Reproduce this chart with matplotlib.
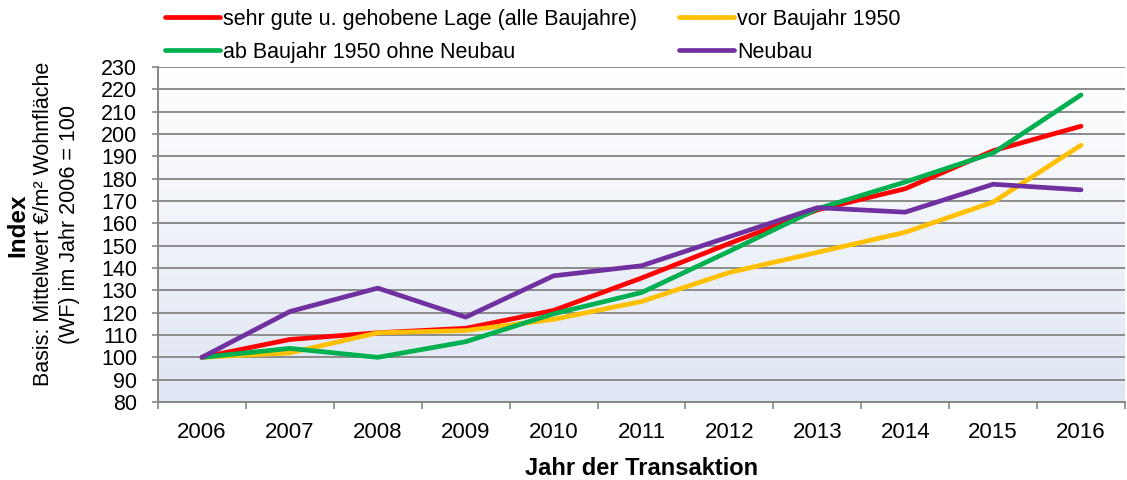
import matplotlib
matplotlib.use("Agg")
import matplotlib.pyplot as plt
import numpy as np
from matplotlib.colors import LinearSegmentedColormap

plt.rcParams['font.family'] = ['Liberation Sans', 'DejaVu Sans']

years = [2006, 2007, 2008, 2009, 2010, 2011, 2012, 2013, 2014, 2015, 2016]
sehr_gute = [100, 108, 111, 113, 121, 135.5, 151, 166, 175.5, 192.5, 203.5]
vor_1950 = [100, 102, 111, 112, 117, 125, 138, 147, 156, 169.5, 195]
ab_1950 = [100, 104, 100, 107, 119.5, 129, 147.5, 166.5, 178.5, 191.5, 217.5]
neubau = [100, 120.5, 131, 118, 136.5, 141, 154, 167, 165, 177.5, 175]

labels = ["sehr gute u. gehobene Lage (alle Baujahre)", "vor Baujahr 1950",
          "ab Baujahr 1950 ohne Neubau", "Neubau"]
colors = ["#ff0000", "#ffc000", "#00b050", "#7030a0"]
yticks = list(range(80, 231, 10))

W, H = 1127, 480
fig = plt.figure(figsize=(W / 100, H / 100), dpi=100)
ax = fig.add_axes([158 / W, 1 - 402 / H, (1125 - 158) / W, (402 - 67) / H])

# gradient background
grad = np.linspace(1, 0, 256).reshape(-1, 1)
cmap = LinearSegmentedColormap.from_list("bg", ["#dfe6f3", "#ffffff"])
ax.imshow(grad, extent=[0, 1, 0, 1], transform=ax.transAxes, cmap=cmap,
          aspect='auto', zorder=0, origin='upper')

x = np.arange(len(years))
series = [sehr_gute, vor_1950, ab_1950, neubau]
handles = []
for s, c, l in zip(series, colors, labels):
    h, = ax.plot(x, s, color=c, lw=3.4, label=l, zorder=3, solid_capstyle='round')
    handles.append(h)

ax.set_xlim(-0.5, len(years) - 0.5)
ax.set_ylim(80, 230)
ax.set_yticks(yticks)
ax.set_yticklabels([str(t) for t in yticks], fontsize=15.5)
ax.set_xticks(x)
ax.set_xticklabels([str(y) for y in years], fontsize=16)
ax.set_xticks(np.arange(-0.5, len(years)), minor=True)
ax.tick_params(axis='x', which='major', length=0, pad=14.5)
ax.tick_params(axis='x', which='minor', length=5, color='#868686', width=1.2)
ax.tick_params(axis='y', length=4.5, color='#868686', width=1.2, pad=10.5)
ax.grid(axis='y', color='#8c8c8c', lw=1.4, zorder=1)
ax.set_axisbelow(True)
for sp in ['top', 'right']:
    ax.spines[sp].set_visible(False)
for sp in ['left', 'bottom']:
    ax.spines[sp].set_color('#868686')
    ax.spines[sp].set_linewidth(1.4)

ax.set_xlabel("Jahr der Transaktion", fontsize=17, fontweight='bold', labelpad=10)

fig.text(18 / W, 1 - 225 / H, "Index", rotation=90, fontsize=17.5, fontweight='bold',
         ha='center', va='center')
fig.text(56.5 / W, 1 - 224 / H, "Basis: Mittelwert €/m² Wohnfläche\n(WF) im Jahr 2006 = 100",
         rotation=90, fontsize=15.5, ha='center', va='center', linespacing=1.28)

order = [handles[0], handles[2], handles[1], handles[3]]
fig.legend(order, [h.get_label() for h in order], ncol=2, loc='upper left',
           bbox_to_anchor=(165 / W, 1 - 9 / H), frameon=False, fontsize=15.5,
           handlelength=2.55, handletextpad=0.15, columnspacing=1.95,
           labelspacing=0.55, borderpad=0, borderaxespad=0)

fig.savefig("out.png", dpi=100)
